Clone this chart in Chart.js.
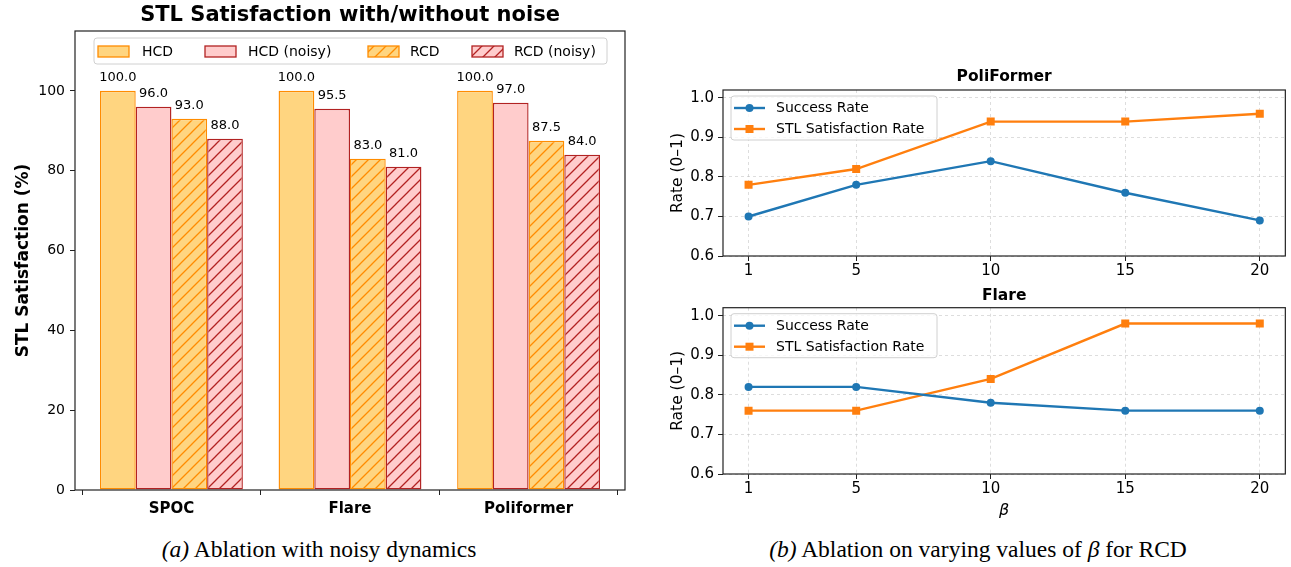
<!DOCTYPE html>
<html>
<head>
<meta charset="utf-8">
<script src="https://cdn.jsdelivr.net/npm/chart.js@4.4.0/dist/chart.umd.min.js"></script>
<style>
  html, body { margin: 0; padding: 0; background: #fff; }
  body { width: 1291px; height: 567px; position: relative; overflow: hidden; }
  canvas { position: absolute; }
  .cap { position: absolute; font-family: "Liberation Serif", "Times New Roman", serif; font-size: 23.5px; color: #000; white-space: nowrap; transform: translateX(-50%); }
  .cap i { font-style: italic; }
</style>
</head>
<body>
<canvas id="barChart" style="left:0;top:0;width:640px;height:530px"></canvas>
<canvas id="poliChart" style="left:640px;top:60px;width:651px;height:230px"></canvas>
<canvas id="flareChart" style="left:640px;top:280px;width:651px;height:250px"></canvas>
<div class="cap" style="left:319px;top:536px"><i>(a)</i> Ablation with noisy dynamics</div>
<div class="cap" style="left:978px;top:536px"><i>(b)</i> Ablation on varying values of <i>β</i> for RCD</div>
<script>
// ---------------- DATA ----------------
const barCategories = ['SPOC', 'Flare', 'Poliformer'];
const barSeriesNames = ['HCD', 'HCD (noisy)', 'RCD', 'RCD (noisy)'];
const hcdValues = [100.0, 100.0, 100.0];
const hcdNoisyValues = [96.0, 95.5, 97.0];
const rcdValues = [93.0, 83.0, 87.5];
const rcdNoisyValues = [88.0, 81.0, 84.0];
const barYTicks = [0, 20, 40, 60, 80, 100];

const betaValues = [1, 5, 10, 15, 20];
const lineSeriesNames = ['Success Rate', 'STL Satisfaction Rate'];
const poliSuccess = [0.70, 0.78, 0.84, 0.76, 0.69];
const poliSTL = [0.78, 0.82, 0.94, 0.94, 0.96];
const flareSuccess = [0.82, 0.82, 0.78, 0.76, 0.76];
const flareSTL = [0.76, 0.76, 0.84, 0.98, 0.98];
const rateTicks = [0.6, 0.7, 0.8, 0.9, 1.0];

// ---------------- STYLE ----------------
const FONT = "'DejaVu Sans', sans-serif";
Chart.defaults.font.family = FONT;
Chart.defaults.color = '#000';
Chart.defaults.animation = false;
Chart.defaults.devicePixelRatio = 1;

const orangeFill = '#FFD580';
const orangeEdge = '#FF8C00';
const pinkFill = '#FFCCCC';
const redEdge = '#B22222';
const blue = '#1f77b4';
const orange = '#ff7f0e';

function hatch(base, line) {
  const p = 12;
  const c = document.createElement('canvas');
  c.width = p; c.height = p;
  const g = c.getContext('2d');
  g.fillStyle = base; g.fillRect(0, 0, p, p);
  g.strokeStyle = line; g.lineWidth = 1.3;
  g.beginPath();
  g.moveTo(-2, p + 2); g.lineTo(p + 2, -2);
  g.moveTo(-2, 2); g.lineTo(2, -2);
  g.moveTo(p - 2, p + 2); g.lineTo(p + 2, p - 2);
  g.stroke();
  return g.createPattern(c, 'repeat');
}
const rcdPattern = hatch(orangeFill, orangeEdge);
const rcdNoisyPattern = hatch(pinkFill, redEdge);

const framePlugin = {
  id: 'frame',
  afterDatasetsDraw(chart) {
    const {ctx, chartArea: a} = chart;
    ctx.save();
    ctx.strokeStyle = '#222';
    ctx.lineWidth = 1.2;
    ctx.strokeRect(a.left, a.top, a.right - a.left, a.bottom - a.top);
    ctx.restore();
  }
};

// title centred over the plot area
const areaTitlePlugin = {
  id: 'areaTitle',
  afterDraw(chart, args, opts) {
    if (!opts || !opts.text) return;
    const {ctx, chartArea: a} = chart;
    ctx.save();
    ctx.font = 'bold ' + opts.size + 'px ' + FONT;
    ctx.fillStyle = '#000';
    ctx.textAlign = 'center';
    ctx.textBaseline = 'middle';
    ctx.fillText(opts.text, (a.left + a.right) / 2, opts.y);
    ctx.restore();
  }
};

function roundRect(ctx, x, y, w, h, r) {
  ctx.beginPath();
  ctx.moveTo(x + r, y);
  ctx.lineTo(x + w - r, y); ctx.quadraticCurveTo(x + w, y, x + w, y + r);
  ctx.lineTo(x + w, y + h - r); ctx.quadraticCurveTo(x + w, y + h, x + w - r, y + h);
  ctx.lineTo(x + r, y + h); ctx.quadraticCurveTo(x, y + h, x, y + h - r);
  ctx.lineTo(x, y + r); ctx.quadraticCurveTo(x, y, x + r, y);
  ctx.closePath();
}

// ---------------- BAR CHART ----------------
const barFills = [orangeFill, pinkFill, rcdPattern, rcdNoisyPattern];
const barEdges = [orangeEdge, redEdge, orangeEdge, redEdge];
const barValues = [hcdValues, hcdNoisyValues, rcdValues, rcdNoisyValues];

const barLabelPlugin = {
  id: 'barLabels',
  afterDatasetsDraw(chart) {
    const {ctx} = chart;
    ctx.save();
    ctx.font = "13px " + FONT;
    ctx.fillStyle = '#000';
    ctx.textAlign = 'center';
    ctx.textBaseline = 'alphabetic';
    chart.data.datasets.forEach((ds, di) => {
      chart.getDatasetMeta(di).data.forEach((el, i) => {
        ctx.fillText(barValues[di][i].toFixed(1), el.x, el.y - 10);
      });
    });
    ctx.restore();
  }
};

const barLegendPlugin = {
  id: 'barLegend',
  afterDraw(chart) {
    const {ctx, chartArea: a} = chart;
    const bx = a.left + 19, by = a.top + 7, bw = 513, bh = 26;
    ctx.save();
    roundRect(ctx, bx, by, bw, bh, 3);
    ctx.fillStyle = 'rgba(255,255,255,0.8)'; ctx.fill();
    ctx.strokeStyle = '#d0d0d0'; ctx.lineWidth = 1; ctx.stroke();
    const px = [98, 205, 368, 472], tx = [142, 248, 410, 514];
    ctx.font = "14px " + FONT;
    ctx.textBaseline = 'middle';
    ctx.textAlign = 'left';
    for (let i = 0; i < 4; i++) {
      ctx.fillStyle = barFills[i];
      ctx.fillRect(px[i], by + 8, 31, 11);
      ctx.strokeStyle = barEdges[i]; ctx.lineWidth = 1.3;
      ctx.strokeRect(px[i], by + 8, 31, 11);
      ctx.fillStyle = '#000';
      ctx.fillText(barSeriesNames[i], tx[i], by + 14);
    }
    ctx.restore();
  }
};

new Chart(document.getElementById('barChart'), {
  type: 'bar',
  data: {
    datasets: barValues.map((vals, di) => ({
      label: barSeriesNames[di],
      data: vals.map((v, i) => ({x: i, y: v})),
      backgroundColor: barFills[di],
      borderColor: barEdges[di],
      borderWidth: 1.4,
      borderSkipped: false,
      categoryPercentage: 0.8,
      barPercentage: 1.0
    }))
  },
  options: {
    responsive: false,
    layout: {padding: {left: 0, right: 15, top: 31, bottom: 0}},
    plugins: {
      legend: {display: false},
      tooltip: {enabled: false},
      title: {display: false},
      areaTitle: {text: 'STL Satisfaction with/without noise', size: 21, y: 16}
    },
    scales: {
      x: {
        type: 'linear',
        offset: false,
        min: -0.54, max: 2.54,
        afterBuildTicks: s => { s.ticks = barCategories.map((c, i) => ({value: i})); },
        afterFit: s => { s.height = 40; },
        ticks: {
          callback: v => barCategories[v],
          font: {size: 15, weight: 'bold'},
          padding: 5,
          maxRotation: 0
        },
        grid: {drawOnChartArea: false, drawTicks: true, tickLength: 5, tickColor: '#222'},
        border: {display: false}
      },
      y: {
        min: 0, max: 115,
        afterBuildTicks: s => { s.ticks = barYTicks.map(v => ({value: v})); },
        afterFit: s => { s.width = 75; },
        ticks: {font: {size: 14}, padding: 5},
        grid: {drawOnChartArea: false, drawTicks: true, tickLength: 5, tickColor: '#222'},
        border: {display: false},
        title: {
          display: true,
          text: 'STL Satisfaction (%)',
          font: {size: 17, weight: 'bold'},
          padding: {top: 13, bottom: 0}
        }
      }
    }
  },
  plugins: [framePlugin, barLabelPlugin, barLegendPlugin, areaTitlePlugin]
});

// ---------------- LINE CHARTS ----------------
const lineLegendPlugin = {
  id: 'lineLegend',
  afterDraw(chart) {
    const {ctx, chartArea: a} = chart;
    const bx = a.left + 8, by = a.top + 6, bw = 206, bh = 44;
    ctx.save();
    roundRect(ctx, bx, by, bw, bh, 3);
    ctx.fillStyle = 'rgba(255,255,255,0.8)'; ctx.fill();
    ctx.strokeStyle = '#d0d0d0'; ctx.lineWidth = 1; ctx.stroke();
    ctx.font = "14px " + FONT;
    ctx.textBaseline = 'middle';
    ctx.textAlign = 'left';
    const cols = [blue, orange];
    for (let i = 0; i < 2; i++) {
      const y = by + 12 + i * 21;
      ctx.strokeStyle = cols[i]; ctx.lineWidth = 2.4;
      ctx.beginPath(); ctx.moveTo(bx + 3, y); ctx.lineTo(bx + 34, y); ctx.stroke();
      ctx.fillStyle = cols[i];
      if (i === 0) { ctx.beginPath(); ctx.arc(bx + 18.5, y, 4, 0, Math.PI * 2); ctx.fill(); }
      else { ctx.fillRect(bx + 14.5, y - 4, 8, 8); }
      ctx.fillStyle = '#000';
      ctx.fillText(lineSeriesNames[i], bx + 45, y + 0.5);
    }
    ctx.restore();
  }
};

function lineChart(id, title, success, stl, areaTop, titleY, titleSize, showXTitle, xHeight) {
  return new Chart(document.getElementById(id), {
    type: 'line',
    data: {
      datasets: [
        {
          label: lineSeriesNames[0],
          data: betaValues.map((b, i) => ({x: b, y: success[i]})),
          borderColor: blue, backgroundColor: blue,
          borderWidth: 2.4, pointStyle: 'circle', pointRadius: 4, pointBorderWidth: 0,
          tension: 0
        },
        {
          label: lineSeriesNames[1],
          data: betaValues.map((b, i) => ({x: b, y: stl[i]})),
          borderColor: orange, backgroundColor: orange,
          borderWidth: 2.4, pointStyle: 'rect', pointRadius: 5.66, pointBorderWidth: 0,
          tension: 0
        }
      ]
    },
    options: {
      responsive: false,
      layout: {padding: {left: 0, right: 2, top: areaTop, bottom: 0}},
      plugins: {
        legend: {display: false},
        tooltip: {enabled: false},
        title: {display: false},
        areaTitle: {text: title, size: titleSize, y: titleY}
      },
      scales: {
        x: {
          type: 'linear', min: 0.05, max: 20.95,
          afterBuildTicks: s => { s.ticks = betaValues.map(v => ({value: v})); },
          afterFit: s => { s.height = xHeight; },
          ticks: {font: {size: 15}, padding: 1, maxRotation: 0},
          grid: {color: 'rgba(176,176,176,0.55)', lineWidth: 0.8, drawTicks: true, tickLength: 5, tickColor: '#222', tickWidth: 1},
          border: {display: false, dash: [3, 3]},
          title: {
            display: showXTitle, text: 'β',
            font: {size: 16, style: 'italic'},
            padding: {top: 0, bottom: 10}
          }
        },
        y: {
          min: 0.6, max: 1.02,
          afterBuildTicks: s => { s.ticks = rateTicks.map(v => ({value: v})); },
          afterFit: s => { s.width = 83; },
          ticks: {font: {size: 15}, padding: 4, callback: v => v.toFixed(1)},
          grid: {color: 'rgba(176,176,176,0.55)', lineWidth: 0.8, drawTicks: true, tickLength: 5, tickColor: '#222', tickWidth: 1},
          border: {display: false, dash: [3, 3]},
          title: {
            display: true, text: 'Rate (0–1)',
            font: {size: 15.5},
            padding: {top: 29, bottom: 0}
          }
        }
      }
    },
    plugins: [framePlugin, lineLegendPlugin, areaTitlePlugin]
  });
}

lineChart('poliChart', 'PoliFormer', poliSuccess, poliSTL, 30, 17, 15.5, false, 34);
lineChart('flareChart', 'Flare', flareSuccess, flareSTL, 27.7, 16, 15.5, true, 56);
</script>
</body>
</html>
